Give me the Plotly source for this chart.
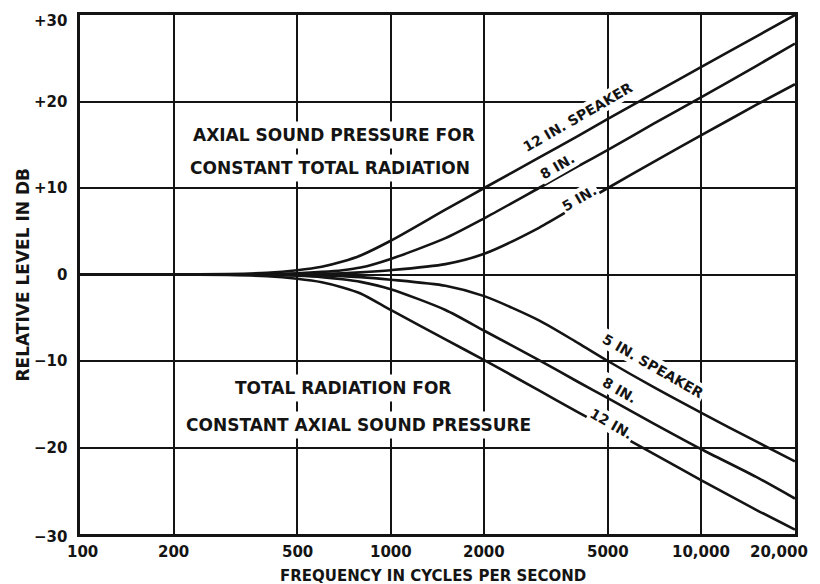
import math
import plotly.graph_objects as go

freq = [100, 200, 300, 400, 500, 600, 700, 800, 1000, 1500, 2000, 3000, 4000,
        5000, 7000, 10000, 15000, 20000]

# Axial sound pressure for constant total radiation (dB)
axial_12 = [0, 0, 0.05, 0.2, 0.5, 0.9, 1.5, 2.2, 3.9, 7.5, 10.0, 13.5, 16.0,
            18.0, 20.9, 24.0, 27.5, 30.0]
axial_8 = [0, 0, 0, 0.05, 0.15, 0.3, 0.5, 0.8, 1.8, 4.2, 6.5, 10.0, 12.5,
           14.4, 17.4, 20.5, 24.1, 26.7]
axial_5 = [0, 0, 0, 0, 0.05, 0.1, 0.15, 0.25, 0.5, 1.2, 2.4, 5.4, 8.0,
           10.0, 13.0, 16.1, 19.6, 22.0]

# Total radiation for constant axial sound pressure (dB)
total_5 = [0, 0, 0, 0, -0.05, -0.1, -0.2, -0.3, -0.6, -1.3, -2.5, -5.3, -7.9,
           -10.0, -13.0, -16.0, -19.3, -21.6]
total_8 = [0, 0, 0, -0.05, -0.15, -0.3, -0.55, -0.85, -1.7, -4.1, -6.5, -9.9, -12.4,
           -14.3, -17.2, -20.2, -23.4, -25.9]
total_12 = [0, 0, -0.05, -0.2, -0.5, -0.9, -1.5, -2.2, -4.1, -7.5, -9.9, -13.4, -15.9,
            -17.8, -20.7, -23.8, -27.2, -29.5]

x_tickvals = [100, 200, 500, 1000, 2000, 5000, 10000, 20000]
x_ticktext = ["100", "200", "500", "1000", "2000", "5000", "10,000", "20,000"]
y_tickvals = [-30, -20, -10, 0, 10, 20, 30]
y_ticktext = ["\u221230", "\u221220", "\u221210", "0", "+10", "+20", "+30"]

INK = "#141414"
FONT = "DejaVu Sans"

fig = go.Figure()
for ys in [axial_12, axial_8, axial_5, total_5, total_8, total_12]:
    fig.add_trace(go.Scatter(
        x=freq, y=ys, mode="lines",
        line=dict(color=INK, width=2.6, shape="spline", smoothing=0.7),
        showlegend=False, hoverinfo="skip"))


def bold(size):
    return dict(family=FONT, size=size, color=INK, weight="bold")


def ann(text, f_log, db, size, angle=0, pad=3):
    fig.add_annotation(
        x=f_log, y=db, xref="x", yref="y", text=text, showarrow=False,
        textangle=angle, bgcolor="white", borderpad=pad, font=bold(size))


ann("AXIAL SOUND PRESSURE FOR", 2.818, 16.1, 17)
ann("CONSTANT TOTAL RADIATION", 2.805, 12.3, 17)
ann("TOTAL RADIATION FOR", 2.846, -13.1, 17)
ann("CONSTANT AXIAL SOUND PRESSURE", 2.895, -17.4, 17)

ann("12 IN. SPEAKER", 3.603, 18.2, 14, -30, 1)
ann("8 IN.", 3.538, 12.5, 14, -30, 1)
ann("5 IN.", 3.609, 8.8, 14, -30, 1)
ann("5 IN. SPEAKER", 3.844, -10.6, 14, 30, 1)
ann("8 IN.", 3.735, -13.4, 14, 30, 1)
ann("12 IN.", 3.712, -17.3, 14, 30, 1)

# tick labels drawn as annotations so that the edge labels can sit like the original
n_x = len(x_tickvals)
for i, (v, t) in enumerate(zip(x_tickvals, x_ticktext)):
    last = i == n_x - 1
    fig.add_annotation(
        x=math.log10(v), xref="x", y=0, yref="paper", text=t, showarrow=False,
        xanchor="right" if last else "center", xshift=15 if last else (2 if i == 0 else 0),
        yanchor="middle", yshift=-18, font=bold(15))

for v, t in zip(y_tickvals, y_ticktext):
    shift = -6 if v == max(y_tickvals) else (-3 if v == min(y_tickvals) else 0)
    fig.add_annotation(
        x=0, xref="paper", y=v, yref="y", text=t, showarrow=False,
        xanchor="right", xshift=-11, yanchor="middle", yshift=shift, font=bold(15))

# axis titles
fig.add_annotation(
    x=0.5, xref="paper", y=0, yref="paper", text="FREQUENCY IN CYCLES PER SECOND",
    showarrow=False, xshift=-5, yanchor="middle", yshift=-42, font=bold(15))
fig.add_annotation(
    x=0, xref="paper", y=0, yref="y", text="RELATIVE LEVEL IN DB",
    showarrow=False, textangle=-90, xanchor="center", xshift=-58,
    yanchor="middle", font=bold(17))

# the page body adds an 8px offset, so the figure is 8px smaller each way
fig.update_layout(
    width=812, height=576,
    margin=dict(l=72, r=25, t=7, b=50),
    paper_bgcolor="white", plot_bgcolor="white",
    font=dict(family=FONT, color=INK),
    xaxis=dict(
        type="log", range=[2, math.log10(20000) + 0.0002],
        tickvals=x_tickvals, showticklabels=False,
        showgrid=True, gridcolor=INK, gridwidth=2,
        showline=True, linecolor=INK, linewidth=3, mirror=True,
        ticks="", automargin=False, zeroline=False),
    yaxis=dict(
        range=[-30, 30], tickvals=y_tickvals, showticklabels=False,
        showgrid=True, gridcolor=INK, gridwidth=2,
        showline=True, linecolor=INK, linewidth=3, mirror=True,
        ticks="", automargin=False, zeroline=False),
)

fig.write_html("out.html")
